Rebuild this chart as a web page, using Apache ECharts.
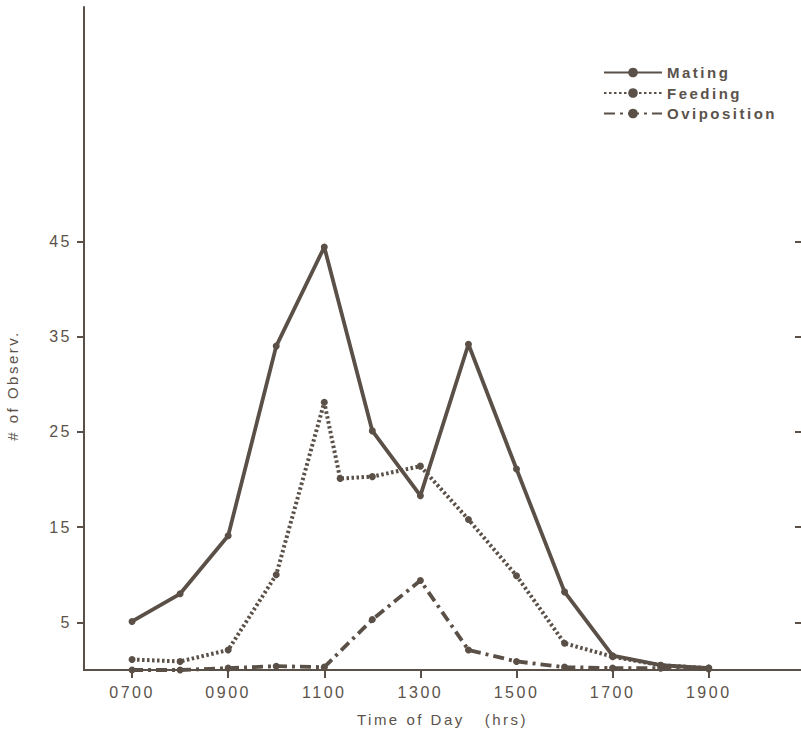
<!DOCTYPE html>
<html>
<head>
<meta charset="utf-8">
<script src="https://cdn.jsdelivr.net/npm/echarts@6.0.0/dist/echarts.min.js"></script>
<style>
  html, body { margin: 0; padding: 0; background: #ffffff; }
  #chart { width: 801px; height: 736px; }
  #chart text { letter-spacing: 2.5px; }
</style>
</head>
<body>
<div id="chart"></div>
<script>
// ---- data ----
const hours = [7, 8, 9, 10, 11, 12, 13, 14, 15, 16, 17, 18, 19];
const mating = [5.1, 8.0, 14.1, 34.0, 44.4, 25.1, 18.3, 34.2, 21.1, 8.2, 1.5, 0.5, 0.2];
const feedingHours = [7, 8, 9, 10, 11, 11.33, 12, 13, 14, 15, 16, 17, 18, 19];
const feeding = [1.1, 0.9, 2.1, 10.0, 28.1, 20.1, 20.3, 21.4, 15.8, 9.9, 2.8, 1.4, 0.5, 0.2];
const oviposition = [0, 0, 0.2, 0.4, 0.3, 5.3, 9.4, 2.1, 0.9, 0.3, 0.2, 0.2, 0.1];
const xTicks = [7, 9, 11, 13, 15, 17, 19];
const yTicks = [5, 15, 25, 35, 45];
const seriesNames = ['Mating', 'Feeding', 'Oviposition'];

const ink = '#5a5047';
const txt = '#5b534b';
const font = 'Liberation Sans, Arial, sans-serif';

const pair = (xs, ys) => ys.map((v, i) => [xs[i], v]);
const hourLabel = v => (v < 10 ? '0' : '') + v + '00';

const chart = echarts.init(document.getElementById('chart'), null, { renderer: 'svg' });

const option = {
  backgroundColor: '#ffffff',
  animation: false,
  textStyle: { fontFamily: font, color: txt },
  grid: { left: 84, right: 0, top: 7, bottom: 66, containLabel: false, outerBoundsMode: 'none' },
  legend: {
    orient: 'vertical',
    left: 598,
    top: 60,
    itemWidth: 58,
    itemHeight: 12,
    itemGap: 5.5,
    data: seriesNames,
    textStyle: { fontFamily: font, fontSize: 15, fontWeight: 'bold', color: txt }
  },
  xAxis: [
    {
      type: 'value',
      position: 'bottom',
      min: 6,
      max: 20.92,
      splitLine: { show: false },
      axisLine: { show: true, lineStyle: { color: ink, width: 2 } },
      axisTick: { show: true, inside: false, length: 8, lineStyle: { color: ink, width: 2 }, customValues: xTicks },
      axisLabel: { show: true, margin: 14, fontSize: 16, color: txt, fontFamily: font, customValues: xTicks, formatter: hourLabel },
      name: 'Time of Day   (hrs)',
      nameLocation: 'middle',
      nameGap: 42,
      nameTextStyle: { fontSize: 15, color: txt, fontFamily: font }
    },
    {
      type: 'value',
      position: 'top',
      min: 6,
      max: 20.92,
      splitLine: { show: false },
      axisLine: { show: true, lineStyle: { color: ink, width: 2 } },
      axisTick: { show: true, inside: true, length: 8, lineStyle: { color: ink, width: 2 }, customValues: xTicks },
      axisLabel: { show: false }
    }
  ],
  yAxis: [
    {
      type: 'value',
      position: 'left',
      min: 0,
      max: 69.6,
      splitLine: { show: false },
      axisLine: { show: true, lineStyle: { color: ink, width: 2 } },
      axisTick: { show: true, inside: false, length: 7, lineStyle: { color: ink, width: 2 }, customValues: yTicks },
      axisLabel: { show: true, margin: 12, fontSize: 16, color: txt, fontFamily: font, customValues: yTicks },
      name: '# of Observ.',
      nameLocation: 'middle',
      nameGap: 64,
      nameRotate: 90,
      nameTextStyle: { fontSize: 15, color: txt, fontFamily: font, padding: [0, 94, 0, 0] }
    },
    {
      type: 'value',
      position: 'right',
      min: 0,
      max: 69.6,
      splitLine: { show: false },
      axisLine: { show: false },
      axisTick: { show: true, inside: true, length: 6, lineStyle: { color: ink, width: 2 }, customValues: yTicks },
      axisLabel: { show: false }
    }
  ],
  series: [
    {
      name: 'Mating',
      type: 'line',
      xAxisIndex: 0, yAxisIndex: 0,
      data: pair(hours, mating),
      symbol: 'circle', symbolSize: 7, showSymbol: true,
      itemStyle: { color: ink },
      lineStyle: { color: ink, width: 3.8, type: 'solid' }
    },
    {
      name: 'Feeding',
      type: 'line',
      xAxisIndex: 0, yAxisIndex: 0,
      data: pair(feedingHours, feeding),
      symbol: 'circle', symbolSize: 7, showSymbol: true,
      itemStyle: { color: ink },
      lineStyle: { color: ink, width: 4, type: [2.5, 2.5] }
    },
    {
      name: 'Oviposition',
      type: 'line',
      xAxisIndex: 0, yAxisIndex: 0,
      data: pair(hours, oviposition),
      symbol: 'circle', symbolSize: 7, showSymbol: true,
      itemStyle: { color: ink },
      lineStyle: { color: ink, width: 3.8, type: [11, 5, 3, 5] }
    }
  ]
};

chart.setOption(option);
</script>
</body>
</html>
